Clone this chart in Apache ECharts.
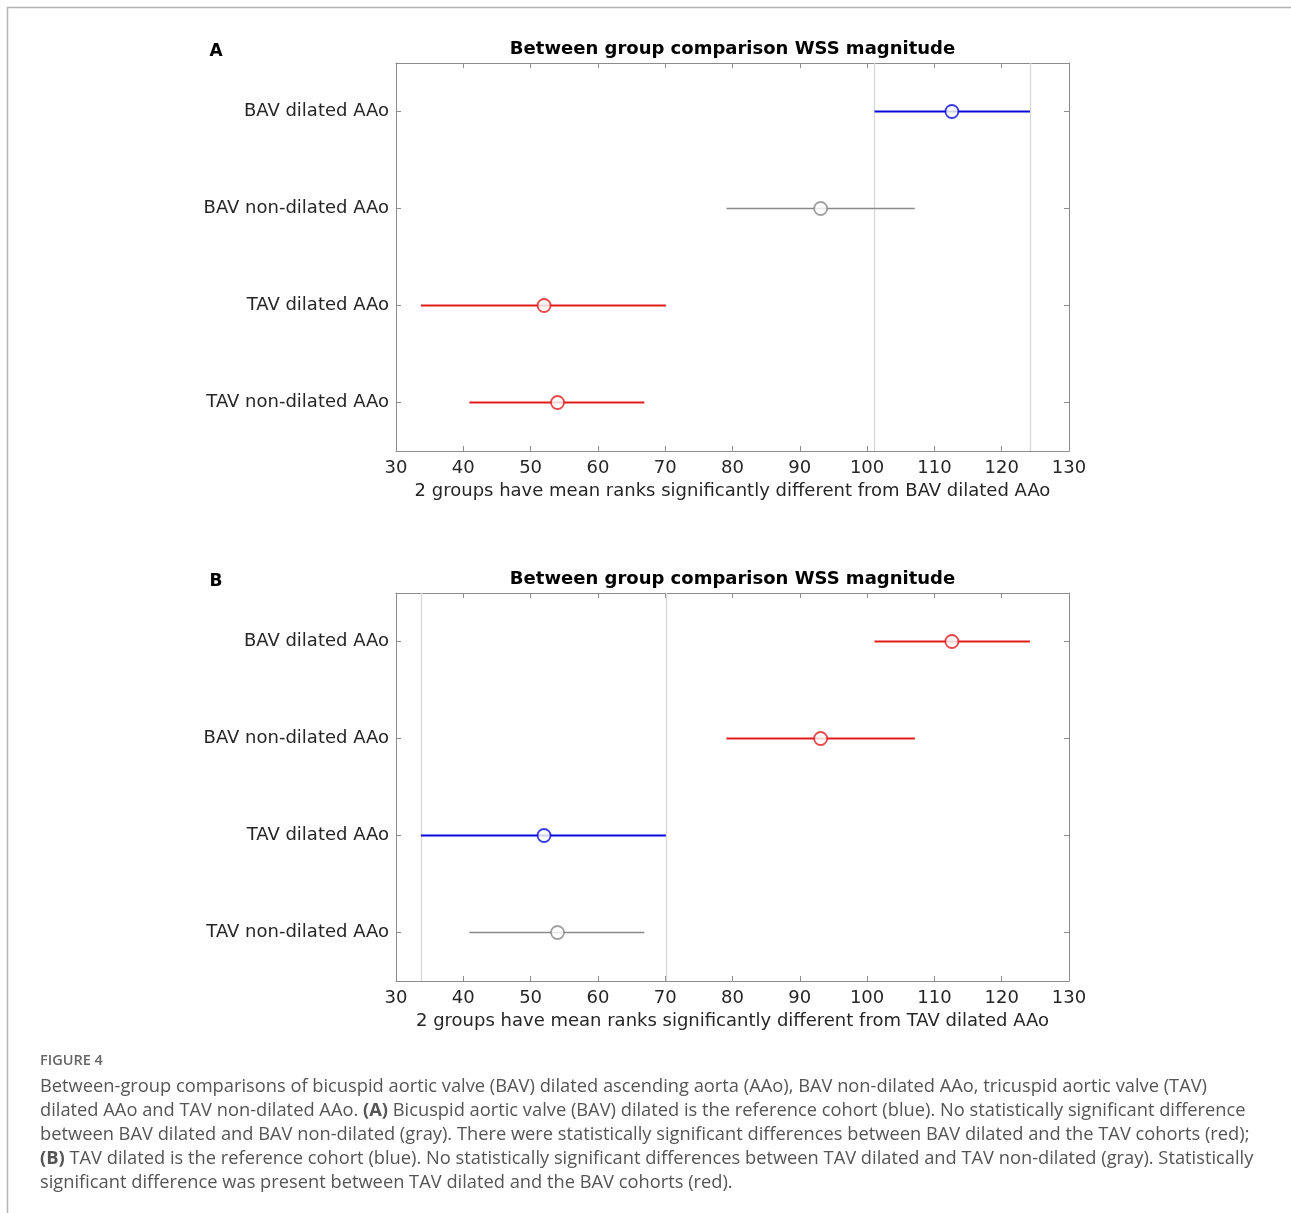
<!DOCTYPE html>
<html>
<head>
<meta charset="utf-8">
<script src="https://cdn.jsdelivr.net/npm/echarts@6/dist/echarts.min.js"></script>
<style>
  html, body { margin: 0; padding: 0; background: #fff; }
  #chart { width: 1291px; height: 1213px; }
</style>
</head>
<body>
<div id="chart"></div>
<script>
// groups, top to bottom
const categories = ['BAV dilated AAo', 'BAV non-dilated AAo', 'TAV dilated AAo', 'TAV non-dilated AAo']
// mean ranks and comparison interval ends
const meanRanks = [112.6, 93.1, 52.0, 54.0]
const lowerEnds = [101.1, 79.1, 33.7, 40.9]
const upperEnds = [124.2, 107.1, 70.1, 66.9]

// colour role of every group in each panel
const rolesA = ['ref', 'same', 'diff', 'diff']
const rolesB = ['diff', 'diff', 'ref', 'same']
const refIndexA = 0
const refIndexB = 2

const panelLabels = ['A', 'B']
const panelTitle = 'Between group comparison WSS magnitude'
const axisNames = [
  '2 groups have mean ranks significantly different from BAV dilated AAo',
  '2 groups have mean ranks significantly different from TAV dilated AAo'
]

const captionHead = 'FIGURE 4'
const captionLines = [
  'Between-group comparisons of bicuspid aortic valve (BAV) dilated ascending aorta (AAo), BAV non-dilated AAo, tricuspid aortic valve (TAV)',
  'dilated AAo and TAV non-dilated AAo. {b|(A)} Bicuspid aortic valve (BAV) dilated is the reference cohort (blue). No statistically significant difference',
  'between BAV dilated and BAV non-dilated (gray). There were statistically significant differences between BAV dilated and the TAV cohorts (red);',
  '{b|(B)} TAV dilated is the reference cohort (blue). No statistically significant differences between TAV dilated and TAV non-dilated (gray). Statistically',
  'significant difference was present between TAV dilated and the BAV cohorts (red).'
]

const roleColor = { ref: '#0a0ad8', same: '#8a8a8a', diff: '#e01c1c' }
const roleWidth = { ref: 2.2, same: 1.5, diff: 2.2 }

const FONT = 'DejaVu Sans'
const gridTops = [63, 593]
const gridLeft = 396
const gridWidth = 673
const gridHeight = 388

const chart = echarts.init(document.getElementById('chart'))

const grids = []
const xAxes = []
const yAxes = []
const series = []
const graphics = []

const axisLineStyle = { color: '#8c8c8c', width: 1 }

gridTops.forEach((top, p) => {
  grids.push({ left: gridLeft, top: top, width: gridWidth, height: gridHeight, show: false })

  const xBase = {
    gridIndex: p,
    type: 'value',
    min: 30,
    max: 130,
    interval: 10,
    axisLine: { show: true, onZero: false, lineStyle: axisLineStyle },
    axisTick: { show: true, inside: true, length: 5, lineStyle: axisLineStyle },
    splitLine: { show: false }
  }
  xAxes.push(Object.assign({}, xBase, {
    position: 'bottom',
    name: axisNames[p],
    nameLocation: 'middle',
    nameGap: 31,
    nameTextStyle: { fontFamily: FONT, fontSize: 18, color: '#262626' },
    axisLabel: { fontFamily: FONT, fontSize: 18, color: '#262626', margin: 8 }
  }))
  xAxes.push(Object.assign({}, xBase, { position: 'top', axisLabel: { show: false } }))

  const yBase = {
    gridIndex: p,
    type: 'category',
    data: categories,
    inverse: true,
    axisLine: { show: true, onZero: false, lineStyle: axisLineStyle },
    axisTick: { show: true, inside: true, alignWithLabel: true, length: 5, lineStyle: axisLineStyle },
    splitLine: { show: false }
  }
  yAxes.push(Object.assign({}, yBase, {
    position: 'left',
    axisLabel: { fontFamily: FONT, fontSize: 18, color: '#262626', margin: 7 }
  }))
  yAxes.push(Object.assign({}, yBase, { position: 'right', axisLabel: { show: false } }))

  const roles = p === 0 ? rolesA : rolesB
  const refIdx = p === 0 ? refIndexA : refIndexB

  // comparison intervals
  series.push({
    type: 'custom',
    xAxisIndex: p * 2,
    yAxisIndex: p * 2,
    dimensions: ['lo', 'hi', 'group'],
    encode: { x: [0, 1], y: 2 },
    data: categories.map((c, i) => [lowerEnds[i], upperEnds[i], c]),
    renderItem: (params, api) => {
      const a = api.coord([api.value(0), api.value(2)])
      const b = api.coord([api.value(1), api.value(2)])
      const role = roles[params.dataIndex]
      return {
        type: 'line',
        shape: { x1: a[0], y1: a[1], x2: b[0], y2: b[1] },
        style: { stroke: roleColor[role], lineWidth: roleWidth[role] }
      }
    },
    z: 3
  })

  // mean ranks, with the reference group's interval marked across the plot
  series.push({
    type: 'scatter',
    xAxisIndex: p * 2,
    yAxisIndex: p * 2,
    symbol: 'circle',
    symbolSize: 13,
    z: 4,
    data: categories.map((c, i) => ({
      value: [meanRanks[i], c],
      itemStyle: { color: '#ffffff', borderColor: roleColor[roles[i]], borderWidth: 1.8 }
    })),
    markLine: {
      silent: true,
      symbol: 'none',
      label: { show: false },
      z: 1,
      lineStyle: { color: '#d8d8d8', type: 'solid', width: 1.3 },
      data: [{ xAxis: lowerEnds[refIdx] }, { xAxis: upperEnds[refIdx] }]
    }
  })

  graphics.push({
    type: 'text',
    x: 216,
    y: top - 11,
    style: {
      text: panelLabels[p],
      font: 'bold 17px "' + FONT + '"',
      fill: '#000',
      align: 'center',
      verticalAlign: 'middle'
    }
  })
  graphics.push({
    type: 'text',
    x: gridLeft + gridWidth / 2,
    y: top - 14,
    style: {
      text: panelTitle,
      font: 'bold 18px "' + FONT + '"',
      fill: '#000',
      align: 'center',
      verticalAlign: 'middle'
    }
  })
})

// frame of the figure page
graphics.push({
  type: 'polyline',
  shape: { points: [[7.5, 1213], [7.5, 7.5], [1291, 7.5]] },
  style: { stroke: '#b4b4b4', lineWidth: 1.5, fill: null }
})

graphics.push({
  type: 'text',
  x: 40,
  y: 1061,
  style: {
    text: captionHead,
    font: '600 14.5px "Open Sans"',
    fill: '#666',
    verticalAlign: 'middle'
  }
})

captionLines.forEach((line, i) => {
  graphics.push({
    type: 'text',
    x: 40,
    y: 1087 + i * 24,
    style: {
      text: line,
      fontFamily: 'Open Sans',
      fontSize: 18.3,
      fill: '#555',
      verticalAlign: 'middle',
      rich: { b: { fontFamily: 'Open Sans', fontSize: 18.3, fontWeight: 'bold', fill: '#555' } }
    }
  })
})

chart.setOption({
  animation: false,
  grid: grids,
  xAxis: xAxes,
  yAxis: yAxes,
  series: series,
  graphic: graphics
})
</script>
</body>
</html>
